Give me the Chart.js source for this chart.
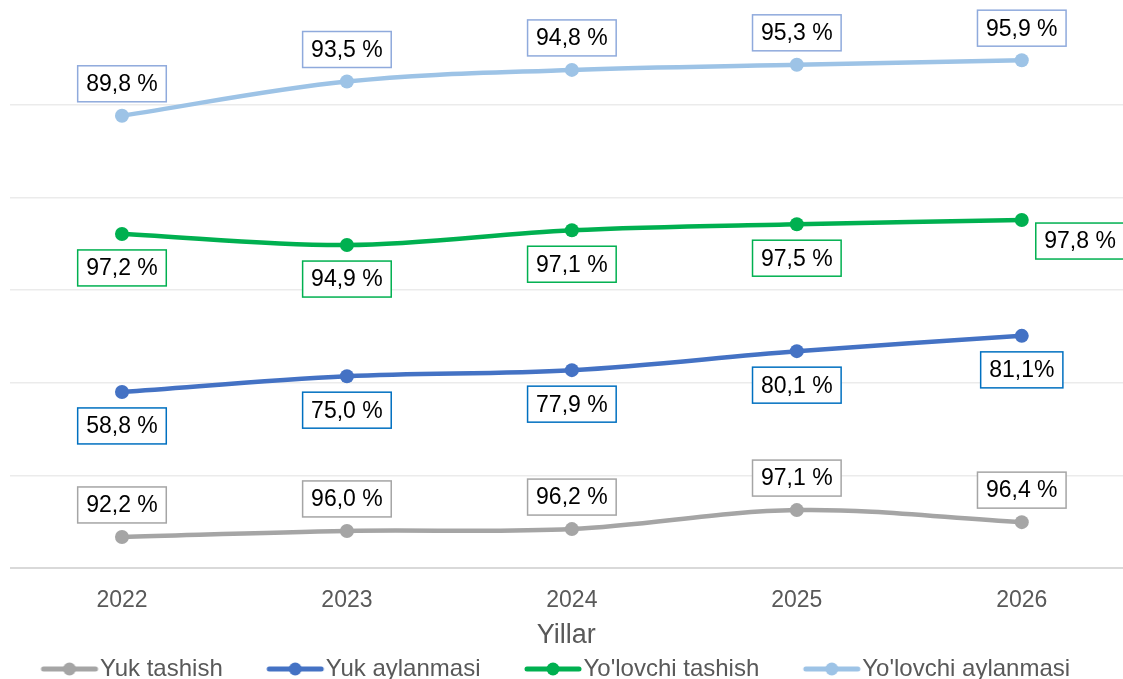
<!DOCTYPE html>
<html>
<head>
<meta charset="utf-8">
<script src="https://cdn.jsdelivr.net/npm/chart.js@4.4.0/dist/chart.umd.min.js"></script>
<style>
  html, body { margin: 0; padding: 0; background: #fff; overflow: hidden; }
  #wrap { width: 1123px; height: 679px; overflow: hidden; }
</style>
</head>
<body>
<div id="wrap"><canvas id="chart" width="1123" height="691"></canvas></div>
<script>
const years = [2022, 2023, 2024, 2025, 2026];

// plotted heights (axis units, gridline every 20) and the label texts shown on the points
const yukTashish = [6.7, 8.0, 8.4, 12.5, 9.9];
const yukTashishLabels = ['92,2 %', '96,0 %', '96,2 %', '97,1 %', '96,4 %'];

const yukAylanmasi = [38.0, 41.4, 42.7, 46.8, 50.1];
const yukAylanmasiLabels = ['58,8 %', '75,0 %', '77,9 %', '80,1 %', '81,1%'];

const yolovchiTashish = [72.1, 69.7, 72.9, 74.2, 75.1];
const yolovchiTashishLabels = ['97,2 %', '94,9 %', '97,1 %', '97,5 %', '97,8 %'];

const yolovchiAylanmasi = [97.6, 105.0, 107.5, 108.6, 109.6];
const yolovchiAylanmasiLabels = ['89,8 %', '93,5 %', '94,8 %', '95,3 %', '95,9 %'];

const seriesNames = ['Yuk tashish', 'Yuk aylanmasi', "Yo'lovchi tashish", "Yo'lovchi aylanmasi"];

const FONT = '"Liberation Sans", Arial, sans-serif';

function toPoints(vals) {
  return years.map((yr, i) => ({ x: yr, y: vals[i] }));
}

// legend marker: short line with a dot, drawn in the right part of a wider
// transparent image so it sits just before the legend text
function legendMarker(color) {
  const c = document.createElement('canvas');
  c.width = 104; c.height = 16;
  const g = c.getContext('2d');
  g.strokeStyle = color;
  g.lineWidth = 5;
  g.lineCap = 'round';
  g.beginPath(); g.moveTo(48, 8); g.lineTo(100, 8); g.stroke();
  g.fillStyle = color;
  g.beginPath(); g.arc(74, 8, 6.5, 0, Math.PI * 2); g.fill();
  return c;
}

function makeSet(name, vals, labels, color, boxColor, place) {
  return {
    label: name,
    data: toPoints(vals),
    valueLabels: labels,
    labelPlace: place,
    boxColor: boxColor,
    borderColor: color,
    backgroundColor: color,
    borderWidth: 4.5,
    pointRadius: 7,
    pointHoverRadius: 7,
    pointBorderWidth: 0,
    tension: 0.35,
    fill: false,
    marker: legendMarker(color)
  };
}

const boxLabels = {
  id: 'boxLabels',
  afterDatasetsDraw(chart) {
    const ctx = chart.ctx;
    ctx.save();
    ctx.font = '23px ' + FONT;
    ctx.textAlign = 'center';
    ctx.textBaseline = 'middle';
    chart.data.datasets.forEach((ds, di) => {
      const meta = chart.getDatasetMeta(di);
      meta.data.forEach((pt, i) => {
        const txt = ds.valueLabels[i];
        const place = ds.labelPlace[i];
        const w = ctx.measureText(txt).width + 17;
        const h = 36;
        let cx = pt.x, cy = pt.y;
        if (place === 'above') cy = pt.y - 32;
        else if (place === 'below') cy = pt.y + 34;
        else { cx = pt.x + 14 + w / 2; cy = pt.y + 21; }
        ctx.fillStyle = '#fff';
        ctx.fillRect(cx - w / 2, cy - h / 2, w, h);
        ctx.strokeStyle = ds.boxColor;
        ctx.lineWidth = 1.5;
        ctx.strokeRect(cx - w / 2, cy - h / 2, w, h);
        ctx.fillStyle = '#000';
        ctx.fillText(txt, cx, cy + 1);
      });
    });
    ctx.restore();
  }
};

const datasets = [
  makeSet(seriesNames[0], yukTashish, yukTashishLabels, '#A5A5A5', '#A5A5A5',
    ['above', 'above', 'above', 'above', 'above']),
  makeSet(seriesNames[1], yukAylanmasi, yukAylanmasiLabels, '#4472C4', '#0070C0',
    ['below', 'below', 'below', 'below', 'below']),
  makeSet(seriesNames[2], yolovchiTashish, yolovchiTashishLabels, '#00B050', '#00B050',
    ['below', 'below', 'below', 'below', 'right']),
  makeSet(seriesNames[3], yolovchiAylanmasi, yolovchiAylanmasiLabels, '#9DC3E6', '#8FAADC',
    ['above', 'above', 'above', 'above', 'above'])
];

new Chart(document.getElementById('chart'), {
  type: 'line',
  data: { datasets: datasets },
  plugins: [boxLabels],
  options: {
    responsive: false,
    animation: false,
    events: [],
    layout: { autoPadding: false, padding: { left: -3, right: 0, top: 12, bottom: 0 } },
    scales: {
      x: {
        type: 'linear',
        min: 2021.5,
        max: 2026.45,
        grid: { display: false },
        border: { display: false },
        afterFit(s) { s.height = 79; },
        ticks: {
          stepSize: 1,
          includeBounds: false,
          padding: 11,
          color: '#595959',
          font: { size: 23, family: FONT },
          callback: v => (Number.isInteger(v) ? String(v) : '')
        },
        title: {
          display: true,
          text: 'Yillar',
          color: '#595959',
          padding: { top: 0, bottom: -5 },
          font: { size: 27, family: FONT }
        }
      },
      y: {
        min: 0,
        max: 120,
        afterFit(s) { s.width = 12.5; },
        border: { display: false },
        ticks: { display: false, stepSize: 20 },
        grid: {
          drawTicks: false,
          lineWidth: ctx => (ctx.tick && ctx.tick.value === 0 ? 2 : 1.5),
          color: ctx => {
            if (!ctx.tick) return '#EBEBEB';
            if (ctx.tick.value === 120) return 'rgba(0,0,0,0)';
            if (ctx.tick.value === 0) return '#D9D9D9';
            return '#EBEBEB';
          }
        }
      }
    },
    plugins: {
      tooltip: { enabled: false },
      legend: {
        position: 'bottom',
        align: 'start',
        labels: {
          usePointStyle: true,
          pointStyleWidth: 81,
          padding: 10,
          color: '#595959',
          font: { size: 24, family: FONT },
          generateLabels(chart) {
            return chart.data.datasets.map((ds, i) => ({
              text: ds.label,
              pointStyle: ds.marker,
              fillStyle: ds.borderColor,
              strokeStyle: ds.borderColor,
              lineWidth: 0,
              fontColor: '#595959',
              hidden: false,
              datasetIndex: i
            }));
          }
        }
      }
    }
  }
});
</script>
</body>
</html>
